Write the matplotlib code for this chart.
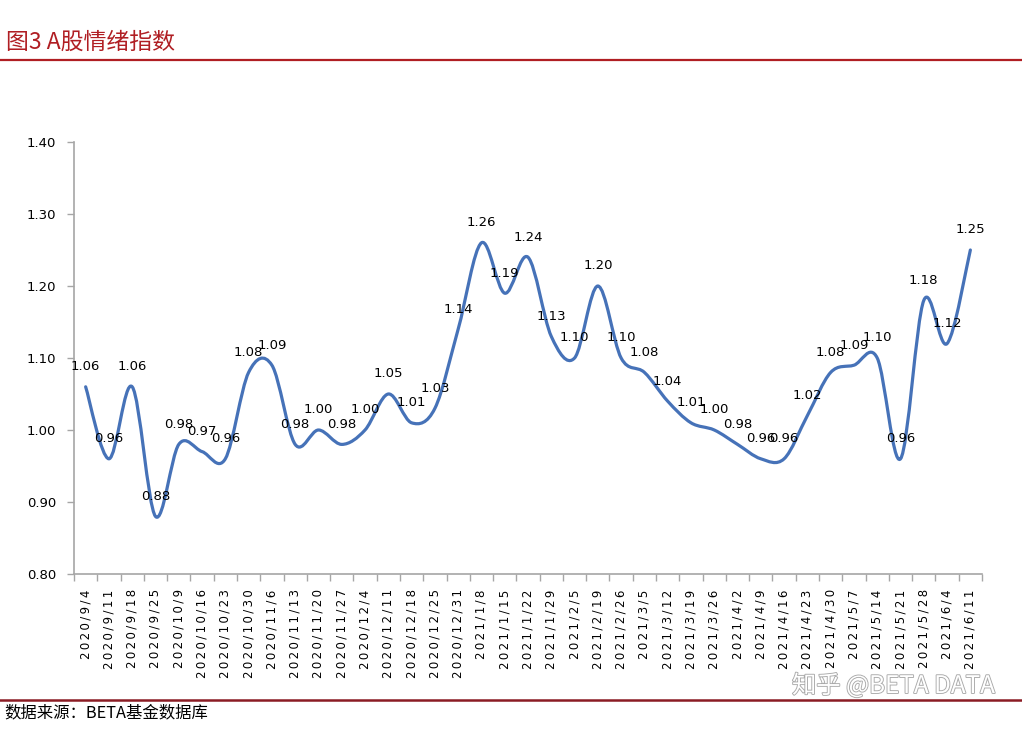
import matplotlib
matplotlib.use("Agg")
import matplotlib.pyplot as plt
from matplotlib.path import Path
from matplotlib.patches import PathPatch
from matplotlib.lines import Line2D
import matplotlib.patheffects as pe
import numpy as np

dates = ["2020/9/4", "2020/9/11", "2020/9/18", "2020/9/25", "2020/10/9", "2020/10/16",
         "2020/10/23", "2020/10/30", "2020/11/6", "2020/11/13", "2020/11/20", "2020/11/27",
         "2020/12/4", "2020/12/11", "2020/12/18", "2020/12/25", "2020/12/31", "2021/1/8",
         "2021/1/15", "2021/1/22", "2021/1/29", "2021/2/5", "2021/2/19", "2021/2/26",
         "2021/3/5", "2021/3/12", "2021/3/19", "2021/3/26", "2021/4/2", "2021/4/9",
         "2021/4/16", "2021/4/23", "2021/4/30", "2021/5/7", "2021/5/14", "2021/5/21",
         "2021/5/28", "2021/6/4", "2021/6/11"]
values = [1.06, 0.96, 1.06, 0.88, 0.98, 0.97, 0.96, 1.08, 1.09, 0.98, 1.00, 0.98,
          1.00, 1.05, 1.01, 1.03, 1.14, 1.26, 1.19, 1.24, 1.13, 1.10, 1.20, 1.10,
          1.08, 1.04, 1.01, 1.00, 0.98, 0.96, 0.96, 1.02, 1.08, 1.09, 1.10, 0.96,
          1.18, 1.12, 1.25]
yticks = [0.80, 0.90, 1.00, 1.10, 1.20, 1.30, 1.40]

title = "图3 A股情绪指数"
source = "数据来源：BETA基金数据库"
watermark = "知乎 @BETA DATA"

CJK = ["Noto Sans CJK SC", "DejaVu Sans"]
LINE_COLOR = "#4672B8"
AXIS_COLOR = "#A6A6A6"
RED = "#B01E23"

fig = plt.figure(figsize=(10.22, 7.30), dpi=100)
W, H = 1022, 730
ax = fig.add_axes([74 / W, 1 - 574 / H, (982 - 74) / W, (574 - 142) / H])

n = len(values)
x = np.arange(n, dtype=float)
y = np.array(values, dtype=float)

# Excel-like smoothed line (cubic Bezier through every data point)
verts = [(x[0], y[0])]
codes = [Path.MOVETO]
for i in range(n - 1):
    p0 = np.array([x[max(i - 1, 0)], y[max(i - 1, 0)]])
    p1 = np.array([x[i], y[i]])
    p2 = np.array([x[i + 1], y[i + 1]])
    p3 = np.array([x[min(i + 2, n - 1)], y[min(i + 2, n - 1)]])
    c1 = p1 + (p2 - p0) / 6.0
    c2 = p2 - (p3 - p1) / 6.0
    verts += [tuple(c1), tuple(c2), tuple(p2)]
    codes += [Path.CURVE4, Path.CURVE4, Path.CURVE4]
path = Path(verts, codes)
ax.add_patch(PathPatch(path, facecolor="none", edgecolor=LINE_COLOR, lw=2.3,
                       capstyle="round", joinstyle="round", zorder=3))

for xi, yi in zip(x, y):
    ax.annotate(f"{yi:.2f}", (xi, yi), xytext=(0, 14.5), textcoords="offset points",
                ha="center", va="center", fontsize=9.5, color="#000000", zorder=4)

ax.set_xlim(-0.5, n - 0.5)
ax.set_ylim(0.80, 1.40)
ax.set_yticks(yticks)
ax.set_yticklabels([f"{v:.2f}" for v in yticks], fontsize=9.5, color="#000000")

THIN = "\u2009"
ax.set_xticks(x)
ax.set_xticklabels([THIN.join(d) for d in dates], rotation=90, fontsize=8.5,
                   ha="center", va="top", color="#000000")
ax.set_xticks(np.arange(-0.5, n, 1.0), minor=True)
ax.tick_params(axis="x", which="major", length=0, pad=11)
ax.tick_params(axis="x", which="minor", length=5, color=AXIS_COLOR, width=1)
ax.tick_params(axis="y", which="major", length=5, color=AXIS_COLOR, width=1, pad=8)

for s in ["top", "right"]:
    ax.spines[s].set_visible(False)
for s in ["left", "bottom"]:
    ax.spines[s].set_color(AXIS_COLOR)
    ax.spines[s].set_linewidth(1.2)
ax.set_facecolor("white")

# title and decorations
fig.text(6 / W, 1 - 42 / H, title, fontsize=16.5, color=RED, family=CJK,
         ha="left", va="center")
fig.add_artist(Line2D([0, 1], [1 - 59.5 / H, 1 - 59.5 / H], transform=fig.transFigure,
                      color=RED, lw=1.6))
fig.add_artist(Line2D([0, 1], [1 - 699.5 / H, 1 - 699.5 / H], transform=fig.transFigure,
                      color="#8B1C24", lw=1.8))
fig.text(4 / W, 1 - 713 / H, source, fontsize=11.8, color="#000000", family=CJK,
         ha="left", va="center")
fig.text(995 / W, 1 - 686 / H, watermark, fontsize=17.5, color="white", family=CJK,
         ha="right", va="center",
         path_effects=[pe.withStroke(linewidth=1.3, foreground="#a9a9a9")])

fig.savefig("out.png", dpi=100, facecolor="white")
